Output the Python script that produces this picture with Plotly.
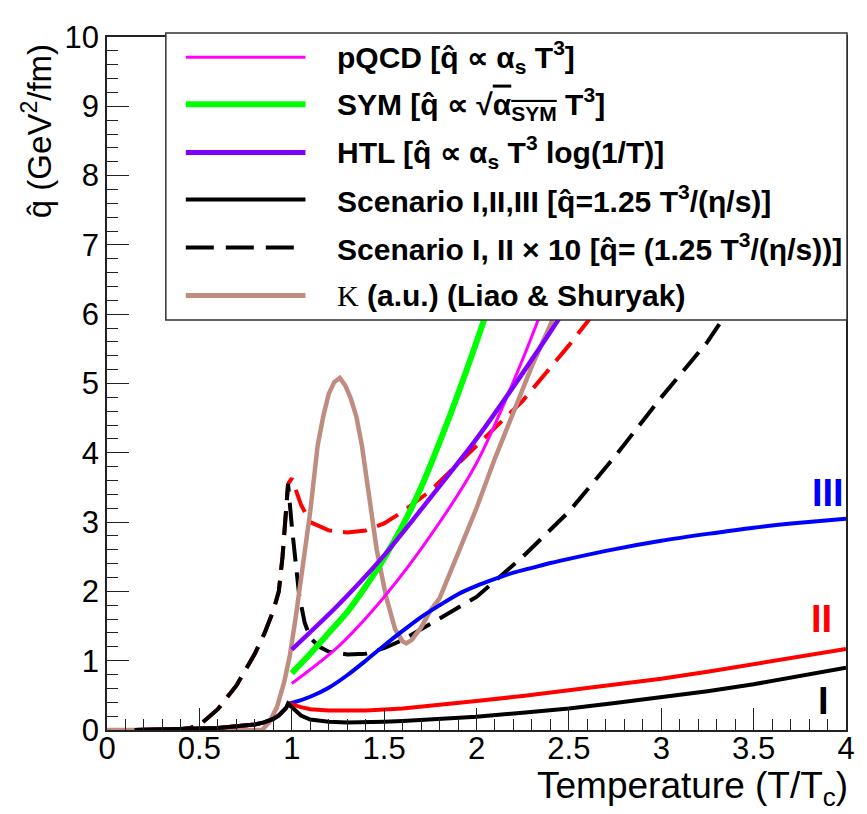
import plotly.graph_objects as go

# ---------------- data ----------------
# hadron-gas part shared by the scenario curves (T < Tc)
T_hg = [0.15, 0.3, 0.4, 0.5, 0.6, 0.7, 0.8, 0.85, 0.9, 0.93, 0.95, 0.97]
q_hg = [0.0, 0.005, 0.01, 0.02, 0.03, 0.05, 0.08, 0.11, 0.16, 0.21, 0.26, 0.32]
T_hg10 = [0.15, 0.3, 0.4, 0.45, 0.5, 0.6, 0.7, 0.8, 0.85, 0.9, 0.93, 0.95, 0.97]
q_hg10 = [0.0, 0.0, 0.01, 0.03, 0.07, 0.3, 0.64, 1.1, 1.38, 1.72, 2.0, 2.5, 3.15]

# Scenario I (black solid)
T_s1 = [0.98, 1.0, 1.02, 1.05, 1.1, 1.15, 1.2, 1.3, 1.4, 1.5, 1.6, 1.75, 2.0, 2.25, 2.5,
        2.75, 3.0, 3.25, 3.5, 3.75, 4.0]
q_s1 = [0.38, 0.33, 0.27, 0.21, 0.15, 0.13, 0.12, 0.11, 0.11, 0.12, 0.13, 0.15, 0.19, 0.25,
        0.31, 0.39, 0.47, 0.56, 0.66, 0.78, 0.9]

# Scenario II (red solid)
T_s2 = [0.98, 1.0, 1.05, 1.1, 1.2, 1.4, 1.6, 1.8, 2.0, 2.25, 2.5, 2.75, 3.0, 3.25, 3.5,
        3.75, 4.0]
q_s2 = [0.38, 0.37, 0.33, 0.3, 0.28, 0.28, 0.31, 0.36, 0.42, 0.49, 0.57, 0.65, 0.74, 0.84,
        0.95, 1.06, 1.17]

# Scenario III (blue solid)
T_s3 = [0.98, 1.0, 1.1, 1.2, 1.3, 1.4, 1.5, 1.6, 1.7, 1.8, 1.9, 2.0, 2.1, 2.2, 2.3, 2.4,
        2.5, 2.75, 3.0, 3.25, 3.5, 3.75, 4.0]
q_s3 = [0.38, 0.39, 0.48, 0.61, 0.79, 1.0, 1.22, 1.43, 1.63, 1.8, 1.96, 2.08, 2.18, 2.27,
        2.34, 2.41, 2.47, 2.61, 2.73, 2.83, 2.92, 2.99, 3.05]

# Scenario I x10 (black dashed)
T_s1x10 = [0.98, 1.0, 1.02, 1.04, 1.07, 1.1, 1.15, 1.2, 1.3, 1.4, 1.5, 1.6, 1.75, 2.0,
           2.25, 2.5, 2.75, 3.0, 3.25, 3.5, 3.75, 4.0]
q_s1x10 = [3.55, 2.95, 2.5, 1.95, 1.55, 1.33, 1.2, 1.13, 1.09, 1.1, 1.18, 1.3, 1.53, 1.92,
           2.5, 3.15, 3.95, 4.8, 5.6, 6.6, 7.7, 9.0]

# Scenario II x10 (red dashed)
T_s2x10 = [0.98, 1.0, 1.05, 1.1, 1.2, 1.3, 1.4, 1.5, 1.6, 1.75, 2.0, 2.12, 2.25, 2.5,
           2.75, 3.0]
q_s2x10 = [3.55, 3.63, 3.25, 3.0, 2.88, 2.85, 2.88, 2.98, 3.15, 3.45, 4.1, 4.42, 4.75,
           5.55, 6.4, 7.3]

# pQCD (magenta)
T_pqcd = [1.0, 1.25, 1.5, 1.75, 2.0, 2.25, 2.5]
q_pqcd = [0.67, 1.2, 1.92, 2.8, 3.85, 5.35, 7.1]

# SYM (green)
T_sym = [1.0, 1.1, 1.2, 1.3, 1.4, 1.5, 1.6, 1.7, 1.8, 1.9, 2.0, 2.1, 2.2]
q_sym = [0.82, 1.1, 1.4, 1.7, 2.07, 2.48, 2.95, 3.5, 4.15, 4.85, 5.6, 6.4, 7.3]

# HTL (violet)
T_htl = [1.0, 1.25, 1.5, 1.75, 2.0, 2.25, 2.5, 2.75]
q_htl = [1.16, 1.8, 2.52, 3.35, 4.2, 5.15, 6.15, 7.2]

# K (a.u.) Liao & Shuryak (brown)
T_k = [0.0, 0.84, 0.88, 0.92, 0.96, 0.99, 1.02, 1.04, 1.07, 1.1, 1.14, 1.17, 1.2, 1.23,
       1.26, 1.29, 1.32, 1.35, 1.38, 1.42, 1.46, 1.51, 1.56, 1.6, 1.62, 1.65, 1.7, 1.75,
       1.8, 1.9, 2.0, 2.1, 2.2, 2.3, 2.4, 2.5]
q_k = [0.0, 0.0, 0.12, 0.33, 0.7, 1.08, 1.6, 1.98, 2.6, 3.15, 4.1, 4.52, 4.85, 5.02,
       5.08, 4.97, 4.78, 4.52, 4.1, 3.34, 2.6, 1.93, 1.45, 1.28, 1.25, 1.3, 1.48, 1.72,
       1.9, 2.55, 3.2, 3.92, 4.6, 5.25, 5.85, 6.5]

# scenario labels
label_text = ["III", "II", "I"]
label_T = [3.9, 3.87, 3.88]
label_q = [3.42, 1.6, 0.42]

legend_texts = [
    "<b>pQCD [q\u0302 \u221d \u03b1<sub>s</sub> T<sup>3</sup>]</b>",
    "<b>SYM [q\u0302 \u221d \u221a<span style='text-decoration:overline'>\u03b1<sub>SYM</sub></span> T<sup>3</sup>]</b>",
    "<b>HTL [q\u0302 \u221d \u03b1<sub>s</sub> T<sup>3</sup> log(1/T)]</b>",
    "<b>Scenario I,II,III [q\u0302=1.25 T<sup>3</sup>/(\u03b7/s)]</b>",
    "<b>Scenario I, II \u00d7 10 [q\u0302= (1.25 T<sup>3</sup>/(\u03b7/s))]</b>",
    "<span style='font-family:Liberation Serif'>\u039a</span><b> (a.u.) (Liao &amp; Shuryak)</b>",
]

# ---------------- styles ----------------
C_MAG = "#ff00ff"
C_GRN = "#00ff00"
C_VIO = "#8000ff"
C_BLK = "#000000"
C_BLU = "#0000ff"
C_RED = "#ff0000"
C_BRN = "#bf8c80"
DASH = "24px,11px"

OFF = 8                      # page body margin of the html page
W, H = 867 - OFF, 814 - OFF
L, R, T, B = 99, 19, 14, 84
pw, ph = W - L - R, H - T - B


def px_x(px):
    """page x pixel -> paper coordinate"""
    return (px - OFF - L) / pw


def px_y(py):
    """page y pixel -> paper coordinate"""
    return (H - B - (py - OFF)) / ph


fig = go.Figure()


def add(x, y, color, width, dash=None, smooth=False):
    fig.add_trace(go.Scatter(x=x, y=y, mode="lines", showlegend=False,
                             line=dict(color=color, width=width, dash=dash,
                                       shape="spline" if smooth else "linear",
                                       smoothing=0.8 if smooth else None),
                             hoverinfo="skip"))


# dashed curves (x10)
add(T_hg10 + T_s2x10, q_hg10 + q_s2x10, C_RED, 4, DASH)
add(T_hg10 + T_s1x10, q_hg10 + q_s1x10, C_BLK, 4, DASH)
# K curve
add(T_k, q_k, C_BRN, 4.5)
# scenario solid curves
add(T_hg, q_hg, C_BLU, 4)
add(T_s3, q_s3, C_BLU, 4, smooth=True)
add(T_hg + T_s2, q_hg + q_s2, C_RED, 4)
add(T_hg + T_s1, q_hg + q_s1, C_BLK, 4)
# theory curves
add(T_pqcd, q_pqcd, C_MAG, 3, smooth=True)
add(T_sym, q_sym, C_GRN, 6, smooth=True)
add(T_htl, q_htl, C_VIO, 4.5, smooth=True)

# scenario labels
for txt, tx, qy, col in zip(label_text, label_T, label_q, [C_BLU, C_RED, C_BLK]):
    fig.add_annotation(x=tx, y=qy, text="<b>" + txt + "</b>", showarrow=False,
                       font=dict(family="Liberation Sans", size=38, color=col),
                       xanchor="center", yanchor="middle")

# ---------------- manual legend box ----------------
fig.add_shape(type="rect", xref="paper", yref="paper",
              x0=px_x(166), x1=px_x(849), y0=px_y(311), y1=px_y(18),
              line=dict(color="#333333", width=1.5), fillcolor="white", layer="above")

leg_rows = [42.7, 90.7, 140, 188, 237, 286]
leg_styles = [(C_MAG, 3, None), (C_GRN, 6, None), (C_VIO, 5, None),
              (C_BLK, 4, None), (C_BLK, 4, "dash"), (C_BRN, 5, None)]
for row, (col, w, d), txt in zip(leg_rows, leg_styles, legend_texts):
    fig.add_shape(type="line", xref="paper", yref="paper",
                  x0=px_x(186), x1=px_x(306), y0=px_y(row), y1=px_y(row),
                  line=dict(color=col, width=w, dash=("28px,12px" if d else None)),
                  layer="above")
    fig.add_annotation(xref="paper", yref="paper", x=px_x(336), y=px_y(row),
                       text=txt, showarrow=False, xanchor="left", yanchor="middle",
                       font=dict(family="Liberation Sans", size=30, color="black"))

# axis titles
fig.add_annotation(xref="paper", yref="paper", x=px_x(852), y=px_y(789),
                   text="Temperature (T/T<sub>c</sub>)", showarrow=False,
                   xanchor="right", yanchor="middle",
                   font=dict(family="Liberation Sans", size=37, color="black"))
fig.add_annotation(xref="paper", yref="paper", x=px_x(37), y=px_y(118),
                   text="q\u0302 (GeV<sup>2</sup>/fm)", showarrow=False, textangle=-90,
                   xanchor="center", yanchor="middle",
                   font=dict(family="Liberation Sans", size=33, color="black"))

axis_common = dict(showgrid=False, zeroline=False, showline=True, mirror=True,
                   linecolor="#222222", linewidth=1.5, ticks="inside", ticklen=22,
                   tickwidth=1.3, tickcolor="#222222", ticklabeloverflow="allow",
                   tickfont=dict(family="Liberation Sans", size=31, color="black"))

fig.update_xaxes(range=[0, 4], dtick=0.5, tick0=0, ticklabelstandoff=-10,
                 minor=dict(dtick=0.1, ticks="inside", ticklen=11, tickcolor="#222222",
                            tickwidth=1.3),
                 **axis_common)
fig.update_yaxes(range=[0, 10], dtick=1, tick0=0,
                 minor=dict(dtick=0.2, ticks="inside", ticklen=11, tickcolor="#222222",
                            tickwidth=1.3),
                 **axis_common)

fig.update_layout(width=W, height=H, margin=dict(l=L, r=R, t=T, b=B),
                  plot_bgcolor="white", paper_bgcolor="white", showlegend=False,
                  font=dict(family="Liberation Sans"))

fig.write_html("out.html")
